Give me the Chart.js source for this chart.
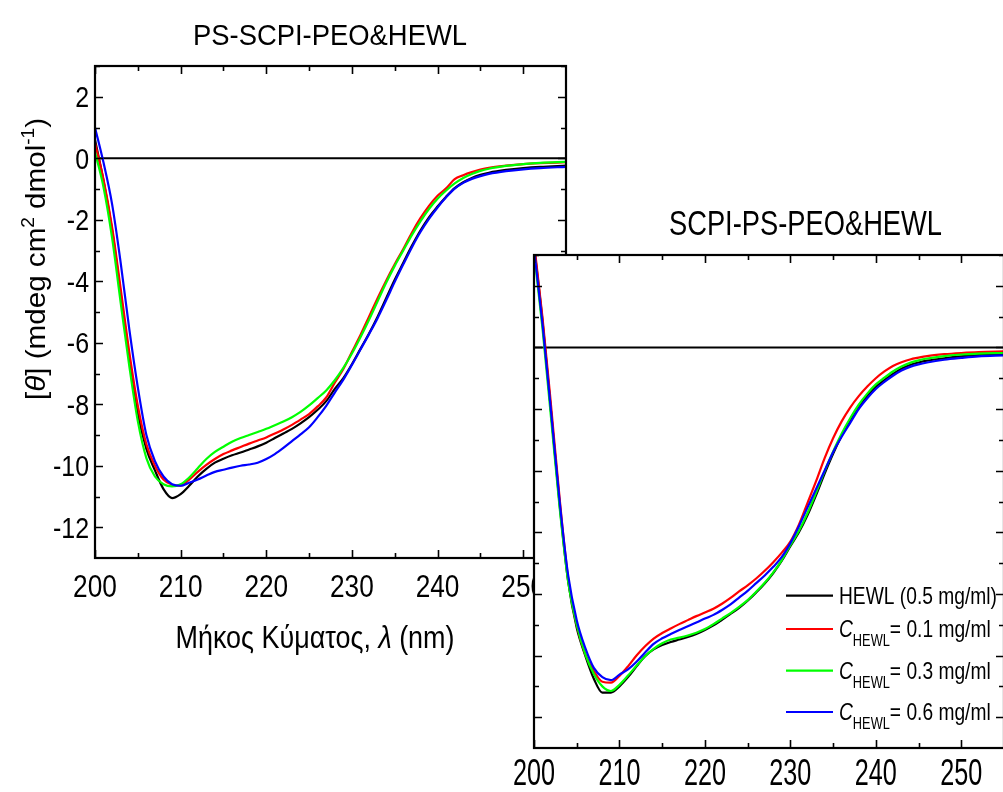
<!DOCTYPE html>
<html>
<head>
<meta charset="utf-8">
<script src="https://cdn.jsdelivr.net/npm/chart.js@4.4.0/dist/chart.umd.min.js"></script>
<style>
html, body { margin: 0; padding: 0; background: #fff; width: 1003px; height: 792px; overflow: hidden; }
#leftBox { position: absolute; left: 0; top: 0; }
#rightBox { position: absolute; left: 470px; top: 180px; }
</style>
</head>
<body>
<div id="leftBox"><canvas id="leftChart" width="600" height="700"></canvas></div>
<div id="rightBox"><canvas id="rightChart" width="560" height="612"></canvas></div>
<script>
// wavelength (nm) shared by every curve
const wavelength = [
  200, 201, 202, 203, 204, 205, 206, 207, 208, 209,
  210, 211, 212, 213, 214, 215, 216, 217, 218, 219,
  220, 221, 222, 223, 224, 225, 226, 227, 228, 229,
  230, 231, 232, 233, 234, 235, 236, 237, 238, 239,
  240, 241, 242, 243, 244, 245, 246, 248, 250, 252, 255
];

// PS-SCPI-PEO & HEWL panel
const leftHewl = [
  0.6, -0.75, -2.35, -4.4, -6.5, -8.3, -9.45, -10.15, -10.76, -11.05,
  -10.92, -10.65, -10.35, -10.1, -9.9, -9.77, -9.66, -9.57, -9.47, -9.37,
  -9.25, -9.1, -8.95, -8.8, -8.62, -8.42, -8.18, -7.9, -7.5, -7.15,
  -6.7, -6.2, -5.7, -5.15, -4.55, -3.95, -3.4, -2.85, -2.35, -1.92,
  -1.57, -1.25, -0.97, -0.78, -0.64, -0.54, -0.47, -0.38, -0.32, -0.28, -0.24
];
const leftC01 = [
  0.5, -0.7, -2.25, -4.25, -6.3, -8.05, -9.3, -10.0, -10.45, -10.62,
  -10.65, -10.45, -10.2, -9.97, -9.78, -9.62, -9.5, -9.39, -9.28, -9.18,
  -9.08, -8.95, -8.82, -8.67, -8.5, -8.32, -8.07, -7.78, -7.3, -6.85,
  -6.3, -5.75, -5.15, -4.55, -3.98, -3.45, -2.95, -2.42, -1.95, -1.55,
  -1.22, -0.98, -0.68, -0.55, -0.45, -0.37, -0.31, -0.24, -0.19, -0.16, -0.13
];
const leftC03 = [
  0.2, -0.95, -2.6, -4.7, -6.75, -8.55, -9.75, -10.35, -10.6, -10.67,
  -10.6, -10.38, -10.08, -9.78, -9.55, -9.38, -9.22, -9.1, -9.0, -8.9,
  -8.8, -8.68, -8.56, -8.42, -8.25, -8.04, -7.8, -7.55, -7.22, -6.82,
  -6.35, -5.82, -5.25, -4.65, -4.05, -3.5, -3.0, -2.5, -2.05, -1.65,
  -1.32, -1.05, -0.82, -0.64, -0.51, -0.41, -0.34, -0.25, -0.19, -0.15, -0.12
];
const leftC06 = [
  1.0, -0.15, -1.5, -3.4, -5.55, -7.45, -9.0, -9.85, -10.35, -10.6,
  -10.65, -10.55, -10.45, -10.32, -10.2, -10.13, -10.06, -10.0, -9.96, -9.9,
  -9.78, -9.62, -9.42, -9.2, -8.98, -8.75, -8.42, -8.05, -7.62, -7.2,
  -6.72, -6.22, -5.72, -5.2, -4.62, -4.02, -3.45, -2.9, -2.4, -1.97,
  -1.6, -1.27, -0.99, -0.8, -0.67, -0.58, -0.51, -0.42, -0.36, -0.32, -0.28
];

// SCPI-PS-PEO & HEWL panel
const rightHewl = [
  3.3, 0.85, -2.1, -5.1, -7.6, -9.1, -10.0, -10.75, -11.2, -11.2,
  -11.0, -10.7, -10.35, -10.02, -9.8, -9.66, -9.56, -9.48, -9.4, -9.3,
  -9.17, -9.02, -8.84, -8.65, -8.45, -8.22, -7.95, -7.66, -7.32, -6.92,
  -6.45, -6.0, -5.45, -4.8, -4.1, -3.45, -2.87, -2.36, -1.92, -1.57,
  -1.28, -1.06, -0.86, -0.69, -0.57, -0.49, -0.43, -0.35, -0.29, -0.25, -0.23
];
const rightC01 = [
  3.4, 0.95, -1.9, -4.9, -7.5, -9.0, -9.95, -10.5, -10.85, -10.88,
  -10.66, -10.35, -10.0, -9.7, -9.45, -9.27, -9.12, -8.98, -8.85, -8.72,
  -8.6, -8.48, -8.32, -8.13, -7.92, -7.72, -7.5, -7.25, -6.97, -6.66,
  -6.3, -5.75, -5.05, -4.35, -3.6, -2.95, -2.4, -1.95, -1.58, -1.27,
  -1.0, -0.78, -0.6, -0.48, -0.39, -0.33, -0.28, -0.22, -0.18, -0.15, -0.13
];
const rightC03 = [
  3.1, 0.6, -2.3, -5.2, -7.6, -9.0, -9.95, -10.6, -11.0, -11.15,
  -10.95, -10.65, -10.33, -10.02, -9.78, -9.6, -9.48, -9.42, -9.35, -9.26,
  -9.14, -8.98, -8.8, -8.62, -8.42, -8.2, -7.93, -7.64, -7.3, -6.9,
  -6.42, -5.95, -5.38, -4.72, -4.02, -3.38, -2.8, -2.3, -1.86, -1.5,
  -1.2, -0.98, -0.78, -0.62, -0.5, -0.42, -0.36, -0.28, -0.23, -0.2, -0.18
];
const rightC06 = [
  3.2, 0.75, -2.1, -5.0, -7.4, -8.85, -9.75, -10.4, -10.7, -10.8,
  -10.62, -10.45, -10.2, -9.9, -9.62, -9.44, -9.3, -9.17, -9.05, -8.93,
  -8.8, -8.68, -8.52, -8.34, -8.12, -7.9, -7.65, -7.4, -7.12, -6.8,
  -6.35, -5.8, -5.2, -4.6, -4.0, -3.4, -2.9, -2.45, -2.0, -1.65,
  -1.35, -1.12, -0.92, -0.75, -0.63, -0.55, -0.49, -0.4, -0.34, -0.29, -0.26
];

const seriesColors = ['#000000', '#ff0000', '#00ff00', '#0000ff'];
const concentrations = ['0.1', '0.3', '0.6'];

const xMajor = [200, 210, 220, 230, 240, 250];
const xMinor = [205, 215, 225, 235, 245, 255];
const yMajor = [-12, -10, -8, -6, -4, -2, 0, 2];
const yMinor = [-13, -11, -9, -7, -5, -3, -1, 1, 3];

const SANS = "'Liberation Sans', Arial, sans-serif";

function toPoints(values) {
    return values.map((v, i) => ({ x: wavelength[i], y: v }));
}

function makeDatasets(series) {
    const sets = series.map((vals, i) => ({
        data: toPoints(vals),
        borderColor: seriesColors[i],
        borderWidth: 2.2,
        pointRadius: 0,
        cubicInterpolationMode: 'monotone',
        order: series.length - i
    }));
    // horizontal zero line
    sets.push({
        data: [{ x: wavelength[0], y: 0 }, { x: wavelength[wavelength.length - 1], y: 0 }],
        borderColor: '#000',
        borderWidth: 2,
        pointRadius: 0,
        order: 10
    });
    return sets;
}

// text pieces with their own fonts, squeezed by sx (or fitted to a width)
function drawText(ctx, parts, x, y, opts) {
    const o = Object.assign({ align: 'left', sx: 1, sy: 1 }, opts);
    let w = 0;
    parts.forEach(p => { ctx.font = p.font; p.w = ctx.measureText(p.t).width; w += p.w; });
    const sx = o.width ? o.width / w : o.sx;
    ctx.save();
    ctx.translate(x, y);
    ctx.scale(sx, o.sy);
    ctx.textAlign = 'left';
    ctx.textBaseline = 'alphabetic';
    ctx.fillStyle = '#000';
    let cx = o.align === 'center' ? -w / 2 : o.align === 'right' ? -w : 0;
    parts.forEach(p => {
        ctx.font = p.font;
        ctx.fillText(p.t, cx, p.dy || 0);
        cx += p.w;
    });
    ctx.restore();
}

// box round the plot with inward ticks on all four sides, plus tick labels
function frameTicks(labelCfg) {
    return {
        id: 'frameTicks',
        afterDatasetsDraw(chart) {
            const { ctx, chartArea: a } = chart;
            const sx = chart.scales.x, sy = chart.scales.y;
            ctx.save();
            ctx.strokeStyle = '#000';
            ctx.lineWidth = 1.6;
            ctx.beginPath();
            const xt = (vals, len) => vals.forEach(v => {
                const p = Math.round(sx.getPixelForValue(v)) + 0.5;
                if (p < a.left || p > a.right) return;
                ctx.moveTo(p, a.bottom); ctx.lineTo(p, a.bottom - len);
                ctx.moveTo(p, a.top); ctx.lineTo(p, a.top + len);
            });
            const yt = (vals, len) => vals.forEach(v => {
                const p = Math.round(sy.getPixelForValue(v)) + 0.5;
                if (p < a.top || p > a.bottom) return;
                ctx.moveTo(a.left, p); ctx.lineTo(a.left + len, p);
                ctx.moveTo(a.right, p); ctx.lineTo(a.right - len, p);
            });
            xt(xMajor, 8); xt(xMinor, 5);
            yt(yMajor, 8); yt(yMinor, 5);
            ctx.stroke();
            ctx.lineWidth = 2.2;
            ctx.strokeRect(a.left, a.top, a.right - a.left, a.bottom - a.top);
            ctx.restore();

            const xs = labelCfg.xSize;
            xMajor.forEach(v => {
                drawText(ctx, [{ t: String(v), font: `${xs}px ${SANS}` }],
                    sx.getPixelForValue(v), a.bottom + labelCfg.xGap,
                    { align: 'center', sx: labelCfg.xSx });
            });
            if (labelCfg.ySize) {
                const ys = labelCfg.ySize;
                yMajor.forEach(v => {
                    drawText(ctx, [{ t: String(v), font: `${ys}px ${SANS}` }],
                        a.left - 6, sy.getPixelForValue(v) + ys * 0.355,
                        { align: 'right', sx: labelCfg.ySx });
                });
            }
        }
    };
}

function xScale(height) {
    return {
        type: 'linear', min: 200, max: 255,
        grid: { display: false }, border: { display: false },
        ticks: { display: false },
        afterFit: s => { s.height = height; }
    };
}

const leftText = {
    id: 'leftText',
    afterDraw(chart) {
        const ctx = chart.ctx;
        drawText(ctx, [{ t: 'PS-SCPI-PEO&HEWL', font: `30px ${SANS}` }], 330, 45,
            { align: 'center', width: 274 });
        drawText(ctx, [
            { t: 'Μήκος Κύματος, ', font: `32px ${SANS}` },
            { t: 'λ', font: `italic 32px ${SANS}` },
            { t: ' (nm)', font: `32px ${SANS}` }
        ], 315, 648, { align: 'center', width: 279 });
        ctx.save();
        ctx.translate(45, 259);
        ctx.rotate(-Math.PI / 2);
        drawText(ctx, [
            { t: '[', font: `28px ${SANS}` },
            { t: 'θ', font: `italic 28px ${SANS}` },
            { t: '] (mdeg cm', font: `28px ${SANS}` },
            { t: '2', font: `18px ${SANS}`, dy: -11 },
            { t: ' dmol', font: `28px ${SANS}` },
            { t: '-1', font: `18px ${SANS}`, dy: -11 },
            { t: ')', font: `28px ${SANS}` }
        ], 0, 0, { align: 'center', width: 282 });
        ctx.restore();
    }
};

new Chart(document.getElementById('leftChart'), {
    type: 'line',
    data: { datasets: makeDatasets([leftHewl, leftC01, leftC03, leftC06]) },
    options: {
        responsive: false,
        animation: false,
        layout: { padding: { top: 66, right: 34, left: 0, bottom: 0 } },
        plugins: { legend: { display: false }, tooltip: { enabled: false } },
        scales: {
            x: xScale(142),
            y: {
                type: 'linear', min: -13, max: 3,
                grid: { display: false }, border: { display: false },
                ticks: { display: false },
                afterFit: s => { s.width = 95; }
            }
        }
    },
    plugins: [frameTicks({ xSize: 32, xSx: 0.82, xGap: 39, ySize: 29, ySx: 0.86 }), leftText]
});

const rightPanel = {
    id: 'rightPanel',
    beforeDraw(chart) {
        const { ctx, chartArea: a } = chart;
        ctx.save();
        ctx.fillStyle = '#fff';
        ctx.fillRect(a.left - 1, a.top - 1, chart.width, chart.height);
        ctx.restore();
    },
    afterDraw(chart) {
        const ctx = chart.ctx;
        drawText(ctx, [{ t: 'SCPI-PS-PEO&HEWL', font: `35px ${SANS}` }], 335.5, 55,
            { align: 'center', width: 273 });
        // legend
        const rows = [415.7, 449, 490.7, 532];
        rows.forEach((ry, i) => {
            ctx.save();
            ctx.strokeStyle = seriesColors[i];
            ctx.lineWidth = 2.2;
            ctx.beginPath();
            ctx.moveTo(316, ry); ctx.lineTo(363, ry);
            ctx.stroke();
            ctx.restore();
            const parts = i === 0
                ? [{ t: 'HEWL (0.5 mg/ml)', font: `24px ${SANS}` }]
                : [{ t: 'C', font: `italic 24px ${SANS}` },
                   { t: 'HEWL', font: `16px ${SANS}`, dy: 9 },
                   { t: '= ' + concentrations[i - 1] + ' mg/ml', font: `24px ${SANS}` }];
            drawText(ctx, parts, 369, ry + 8, { sx: 0.8 });
        });
    }
};

new Chart(document.getElementById('rightChart'), {
    type: 'line',
    data: { datasets: makeDatasets([rightHewl, rightC01, rightC03, rightC06]) },
    options: {
        responsive: false,
        animation: false,
        layout: { padding: { top: 75, right: 26, left: 64, bottom: 0 } },
        plugins: { legend: { display: false }, tooltip: { enabled: false } },
        scales: {
            x: xScale(44),
            y: { type: 'linear', min: -13, max: 3, display: false }
        }
    },
    plugins: [rightPanel, frameTicks({ xSize: 36, xSx: 0.7, xGap: 37 })]
});
</script>
</body>
</html>
